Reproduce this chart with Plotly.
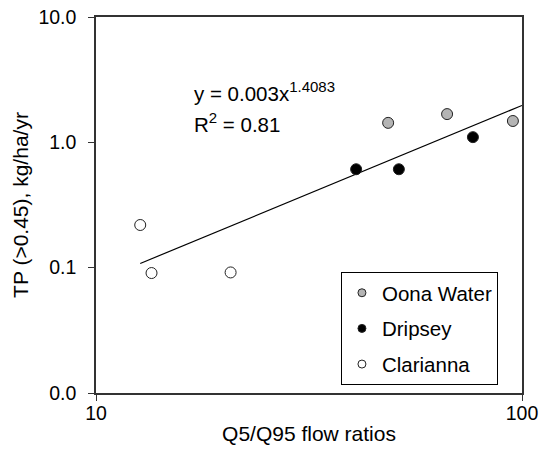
import plotly.graph_objects as go

# Data
oona_x = [48.5, 66.7, 95.2]
oona_y = [1.43, 1.68, 1.48]
dripsey_x = [40.8, 51.4, 76.7]
dripsey_y = [0.61, 0.61, 1.10]
clarianna_x = [12.7, 13.5, 20.7]
clarianna_y = [0.219, 0.0906, 0.0916]
# power-law fit y = 0.003 x^1.4083 (endpoints of the drawn line)
fit_x = [12.7, 100.0]
fit_y = [0.108, 1.97]

y_tickvals = [10, 1, 0.1, 0.01]
y_ticktext = ["10.0", "1.0", "0.1", "0.0"]
x_tickvals = [10, 100]
x_ticktext = ["10", "100"]

FONT = "Liberation Sans, Arial, sans-serif"
AX = "#333333"

fig = go.Figure()
fig.add_trace(go.Scatter(x=fit_x, y=fit_y, mode="lines",
                         line=dict(color="black", width=1.2), showlegend=False, hoverinfo="skip"))

series = [
    ("Oona Water", oona_x, oona_y, "#b4b4b4"),
    ("Dripsey", dripsey_x, dripsey_y, "#000000"),
    ("Clarianna", clarianna_x, clarianna_y, "#ffffff"),
]
for name, xs, ys, col in series:
    fig.add_trace(go.Scatter(x=xs, y=ys, mode="markers", name=name, showlegend=False,
                             marker=dict(size=11, color=col, line=dict(color="#222222", width=1))))
for name, xs, ys, col in series:
    fig.add_trace(go.Scatter(x=[None], y=[None], mode="markers", name=name, legendgroup=name,
                             marker=dict(size=8, color=col, line=dict(color="#222222", width=1))))

fig.add_annotation(x=0.225, y=0.803, xref="paper", yref="paper", xanchor="left", yanchor="middle",
                   text="y = 0.003x<sup><span style='font-size:15px'>1.4083</span></sup>", showarrow=False,
                   font=dict(family=FONT, size=20.5, color="black"))
fig.add_annotation(x=0.225, y=0.72, xref="paper", yref="paper", xanchor="left", yanchor="middle",
                   text="R<sup><span style='font-size:15px'>2</span></sup> = 0.81", showarrow=False,
                   font=dict(family=FONT, size=20.5, color="black"))

fig.update_layout(
    width=539, height=450,
    margin=dict(l=96, r=17, t=17, b=57, autoexpand=False),
    paper_bgcolor="white", plot_bgcolor="white",
    font=dict(family=FONT, size=18, color="black"),
    showlegend=True,
    legend=dict(x=0.575, y=0.322, xanchor="left", yanchor="top",
                bordercolor="black", borderwidth=1, bgcolor="white",
                tracegroupgap=6, font=dict(size=20.5), itemwidth=30,
                entrywidth=125, entrywidthmode="pixels"),
    xaxis=dict(type="log", range=[1, 2], tickvals=x_tickvals, ticktext=x_ticktext,
               showgrid=False, zeroline=False, showline=True, linecolor=AX, linewidth=1.5,
               mirror=True, ticks="outside", ticklen=6, tickcolor=AX, automargin=False,
               tickfont=dict(size=19.5), ticklabelstandoff=-4,
               title=dict(text="Q5/Q95 flow ratios", standoff=3, font=dict(size=21))),
    yaxis=dict(type="log", range=[-2, 1], tickvals=y_tickvals, ticktext=y_ticktext,
               showgrid=False, zeroline=False, showline=True, linecolor=AX, linewidth=1.5,
               mirror=True, ticks="outside", ticklen=6, tickcolor=AX, automargin=False,
               tickfont=dict(size=19.5), ticklabelstandoff=8,
               title=dict(text="TP (>0.45), kg/ha/yr", standoff=4, font=dict(size=21))),
)

fig.write_html("out.html")
